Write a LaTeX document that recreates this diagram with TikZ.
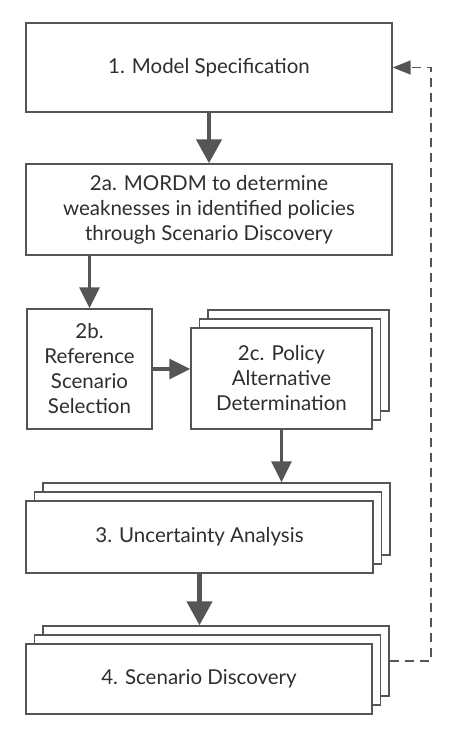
\documentclass[tikz,border=0pt]{standalone}
\usepackage{fontspec}
\setmainfont{Lato}
\usetikzlibrary{arrows.meta,shadows}
\definecolor{boxc}{HTML}{555555}
\definecolor{txtc}{HTML}{2E2E2E}
\begin{document}
\begin{tikzpicture}[x=1pt,y=-1pt,
  box/.style={draw=boxc,line width=1.4pt,fill=white,align=center,text=txtc,
    font=\fontsize{20.5}{25}\selectfont,inner sep=0pt},
  stack/.style={general shadow={shadow xshift=17pt,shadow yshift=18pt,fill=white,draw=boxc,line width=1.4pt},
                general shadow={shadow xshift=8.5pt,shadow yshift=9pt,fill=white,draw=boxc,line width=1.4pt}},
  bigarrow/.style={draw=boxc,line width=4.5pt,-{Triangle[width=25pt,length=24pt]}},
  smallarrow/.style={draw=boxc,line width=3.2pt,-{Triangle[width=20pt,length=21pt]}},
  feedback/.style={draw=boxc,line width=1.6pt,dash pattern=on 9pt off 6pt,-{Triangle[width=14pt,length=18pt]}}]
\useasboundingbox (0,0) rectangle (462,730);
\node[box,minimum width=366pt,minimum height=89pt] (b1) at (209,67.5) {1. Model Specification};
\node[box,minimum width=366pt,minimum height=91pt] (b2a) at (209,209.5) {2a. MORDM to determine\\weaknesses in identified policies\\through Scenario Discovery};
\node[box,minimum width=125pt,minimum height=120pt] (b2b) at (89.5,369) {2b.\\Reference\\Scenario\\Selection};
\node[box,stack,minimum width=181pt,minimum height=101pt] (b2c) at (281.5,378.5) {2c. Policy\\Alternative\\Determination};
\node[box,stack,minimum width=347pt,minimum height=72pt] (b3) at (199.5,537) {3. Uncertainty Analysis};
\node[box,stack,minimum width=346pt,minimum height=70pt] (b4) at (199,679) {4. Scenario Discovery};
\coordinate (fb) at (431,0);
\coordinate (d4) at ([xshift=17pt,yshift=18pt]b4.east);
\draw[bigarrow] (b1.south) -- (b2a.north);
\draw[smallarrow] (b2a.south -| b2b.north) -- (b2b.north);
\draw[smallarrow] (b2b.east) -- (b2c.west |- b2b.east);
\draw[smallarrow] (b2c.south) -- ([yshift=18pt]b3.north -| b2c.south);
\draw[bigarrow] (b3.south) -- ([yshift=18pt]b4.north -| b3.south);
\draw[feedback] (d4) -- (d4 -| fb) -- (fb |- b1.east) -- (b1.east);
\end{tikzpicture}
\end{document}
